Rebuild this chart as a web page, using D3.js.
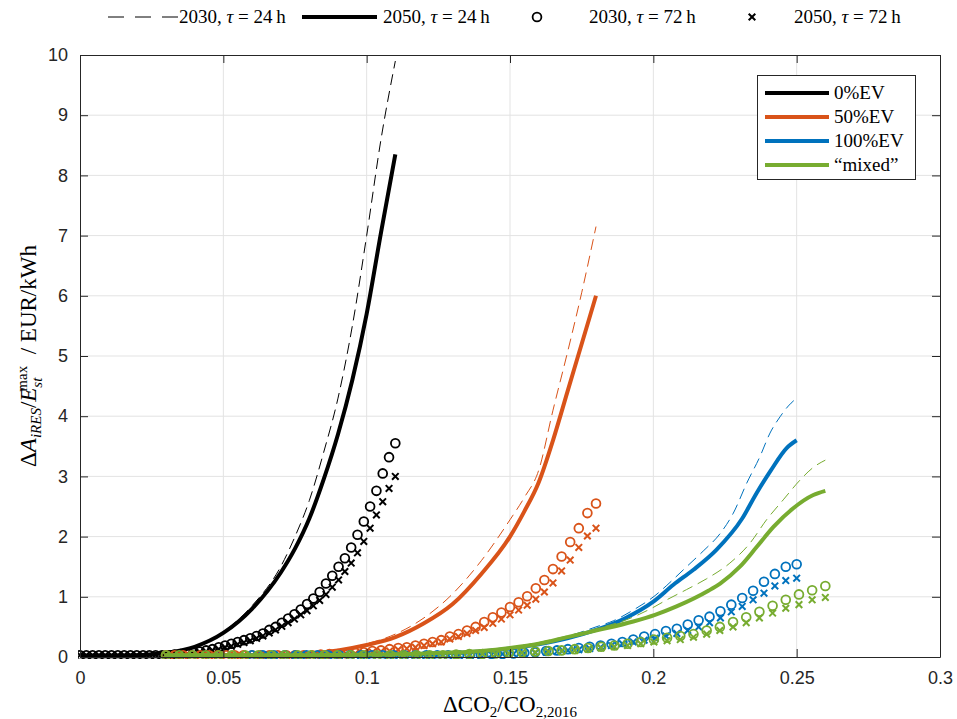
<!DOCTYPE html>
<html><head><meta charset="utf-8">
<script src="https://cdn.jsdelivr.net/npm/d3@7"></script>
<style>
body{margin:0;background:#fff;}
svg{display:block;}
.tick text{font-family:"Liberation Sans",Arial,sans-serif;font-size:18px;fill:#262626;}
.math{font-family:"Liberation Serif","DejaVu Serif",serif;fill:#000;}
</style></head>
<body>
<script>
// ---------- DATA ----------
const scenarios = ["0%EV","50%EV","100%EV","\u201Cmixed\u201D"];
const colors = ["#000000","#D95319","#0072BD","#77AC30"];
const xTicks = [0,0.05,0.1,0.15,0.2,0.25,0.3];
const yTicks = [0,1,2,3,4,5,6,7,8,9,10];

// 2050, tau=24h (thick solid)
const x0_2050_24 = [0,0.01,0.02,0.03,0.04,0.05,0.06,0.07,0.075,0.08,0.085,0.09,0.095,0.1,0.105,0.11];
const y0_2050_24 = [0.02,0.02,0.03,0.07,0.17,0.4,0.8,1.4,1.8,2.3,2.95,3.7,4.6,5.7,7.05,8.35];
const x50_2050_24 = [0.03,0.05,0.07,0.08,0.09,0.1,0.11,0.12,0.13,0.14,0.15,0.155,0.16,0.165,0.17,0.175,0.18];
const y50_2050_24 = [0.03,0.03,0.04,0.06,0.11,0.2,0.33,0.56,0.88,1.38,2.0,2.42,2.9,3.6,4.4,5.2,6.0];
const x100_2050_24 = [0.06,0.1,0.12,0.14,0.15,0.16,0.17,0.18,0.19,0.2,0.207,0.214,0.222,0.231,0.236,0.241,0.2465,0.25];
const y100_2050_24 = [0.02,0.03,0.05,0.09,0.14,0.21,0.31,0.45,0.64,0.92,1.2,1.45,1.78,2.3,2.72,3.1,3.47,3.6];
const xmx_2050_24 = [0.03,0.08,0.1,0.12,0.14,0.15,0.16,0.17,0.181,0.193,0.2006,0.2081,0.2192,0.2233,0.2302,0.2361,0.2419,0.2488,0.2558,0.26];
const ymx_2050_24 = [0.03,0.03,0.04,0.06,0.1,0.15,0.22,0.33,0.45,0.59,0.7,0.84,1.1,1.22,1.5,1.83,2.16,2.47,2.69,2.76];

// 2030, tau=24h (thin dashed)
const x0_2030_24 = [0,0.01,0.02,0.03,0.04,0.05,0.06,0.07,0.075,0.08,0.085,0.09,0.095,0.1,0.105,0.11];
const y0_2030_24 = [0.02,0.02,0.03,0.07,0.18,0.42,0.85,1.5,2.0,2.6,3.4,4.3,5.5,7.0,8.6,9.9];
const x50_2030_24 = [0.03,0.05,0.07,0.08,0.09,0.1,0.11,0.12,0.13,0.14,0.15,0.155,0.16,0.165,0.17,0.175,0.18];
const y50_2030_24 = [0.03,0.03,0.04,0.07,0.12,0.22,0.38,0.65,1.05,1.6,2.28,2.65,3.1,4.1,5.05,6.05,7.15];
const x100_2030_24 = [0.06,0.1,0.12,0.14,0.15,0.16,0.17,0.18,0.186,0.193,0.2006,0.2047,0.2105,0.2174,0.2233,0.2279,0.2326,0.2372,0.2407,0.2442,0.2471,0.25];
const y100_2030_24 = [0.02,0.03,0.05,0.1,0.15,0.23,0.34,0.5,0.6,0.78,1.02,1.19,1.45,1.76,2.05,2.39,2.89,3.33,3.72,3.99,4.17,4.3];
const xmx_2030_24 = [0.03,0.08,0.1,0.12,0.14,0.15,0.16,0.17,0.18,0.1907,0.2006,0.2047,0.2116,0.2186,0.2267,0.2337,0.2395,0.2453,0.2512,0.2558,0.26];
const ymx_2030_24 = [0.03,0.03,0.04,0.06,0.11,0.16,0.24,0.35,0.47,0.62,0.84,0.95,1.12,1.3,1.56,1.89,2.28,2.61,2.94,3.15,3.27];

// tau=72h markers: sample range per scenario (51 evenly spaced samples)
const markerXStart = [0,0.03,0.06,0.03];
const markerXEnd = [0.11,0.18,0.25,0.26];
// 2030, tau=72h (circles)
const y0_2030_72 = [0.03,0.03,0.03,0.03,0.03,0.03,0.03,0.03,0.03,0.03,0.03,0.03,0.03,0.03,0.03,0.04,0.05,0.06,0.07,0.09,0.11,0.13,0.16,0.19,0.22,0.25,0.28,0.31,0.35,0.39,0.45,0.5,0.57,0.64,0.71,0.79,0.88,0.97,1.08,1.22,1.35,1.5,1.64,1.82,2.03,2.25,2.5,2.76,3.05,3.32,3.55];
const y50_2030_72 = [0.03,0.03,0.03,0.03,0.03,0.03,0.03,0.03,0.03,0.03,0.03,0.03,0.03,0.03,0.03,0.03,0.03,0.03,0.04,0.05,0.05,0.06,0.07,0.08,0.1,0.11,0.13,0.15,0.16,0.19,0.22,0.25,0.28,0.34,0.38,0.44,0.5,0.58,0.66,0.74,0.83,0.91,1.01,1.14,1.28,1.46,1.67,1.91,2.14,2.39,2.55];
const y100_2030_72 = [0.03,0.03,0.03,0.03,0.03,0.03,0.03,0.03,0.03,0.03,0.03,0.03,0.03,0.03,0.03,0.03,0.03,0.03,0.03,0.03,0.03,0.04,0.05,0.05,0.06,0.07,0.08,0.1,0.11,0.13,0.15,0.17,0.19,0.22,0.25,0.29,0.34,0.38,0.43,0.47,0.54,0.61,0.67,0.76,0.87,0.98,1.1,1.25,1.38,1.5,1.54];
const ymx_2030_72 = [0.03,0.03,0.03,0.03,0.03,0.03,0.03,0.03,0.03,0.03,0.03,0.03,0.03,0.03,0.03,0.03,0.03,0.03,0.03,0.03,0.03,0.03,0.04,0.05,0.05,0.06,0.07,0.08,0.09,0.1,0.11,0.13,0.15,0.17,0.19,0.22,0.25,0.29,0.32,0.35,0.38,0.44,0.5,0.58,0.66,0.75,0.85,0.95,1.04,1.11,1.18];
// 2050, tau=72h (crosses)
const y0_2050_72 = [0.03,0.03,0.03,0.03,0.03,0.03,0.03,0.03,0.03,0.03,0.03,0.03,0.03,0.03,0.03,0.03,0.04,0.05,0.06,0.08,0.09,0.11,0.13,0.16,0.18,0.21,0.24,0.27,0.31,0.35,0.4,0.45,0.51,0.57,0.63,0.7,0.77,0.85,0.94,1.04,1.16,1.28,1.42,1.56,1.73,1.92,2.14,2.36,2.58,2.8,3.0];
const y50_2050_72 = [0.03,0.03,0.03,0.03,0.03,0.03,0.03,0.03,0.03,0.03,0.03,0.03,0.03,0.03,0.03,0.03,0.03,0.03,0.03,0.04,0.05,0.05,0.06,0.07,0.08,0.09,0.1,0.12,0.14,0.16,0.19,0.22,0.25,0.3,0.34,0.39,0.44,0.49,0.56,0.63,0.7,0.78,0.86,0.96,1.08,1.23,1.43,1.61,1.82,2.01,2.14];
const y100_2050_72 = [0.03,0.03,0.03,0.03,0.03,0.03,0.03,0.03,0.03,0.03,0.03,0.03,0.03,0.03,0.03,0.03,0.03,0.03,0.03,0.03,0.03,0.03,0.04,0.05,0.05,0.06,0.07,0.08,0.09,0.11,0.12,0.14,0.16,0.19,0.22,0.25,0.28,0.31,0.35,0.39,0.44,0.5,0.57,0.65,0.75,0.84,0.95,1.06,1.18,1.27,1.31];
const ymx_2050_72 = [0.03,0.03,0.03,0.03,0.03,0.03,0.03,0.03,0.03,0.03,0.03,0.03,0.03,0.03,0.03,0.03,0.03,0.03,0.03,0.03,0.03,0.03,0.03,0.04,0.05,0.05,0.06,0.07,0.08,0.09,0.1,0.11,0.13,0.15,0.17,0.19,0.22,0.25,0.27,0.29,0.33,0.38,0.44,0.5,0.57,0.65,0.73,0.81,0.87,0.95,0.99];

// ---------- CHART ----------
const W = 957, H = 719;
const m = {left:80, right:17, top:55, bottom:62};
const pw = W - m.left - m.right, ph = H - m.top - m.bottom;

const svg = d3.select("body").append("svg").attr("width",W).attr("height",H);
const g = svg.append("g").attr("transform",`translate(${m.left},${m.top})`);
const x = d3.scaleLinear().domain([0,0.3]).range([0,pw]);
const y = d3.scaleLinear().domain([0,10]).range([ph,0]);

// grid
g.append("g").selectAll("line").data(xTicks.slice(1,-1)).join("line")
  .attr("x1",d=>x(d)).attr("x2",d=>x(d)).attr("y1",0).attr("y2",ph)
  .attr("stroke","#e3e3e3").attr("stroke-width",1);
g.append("g").selectAll("line").data(yTicks.slice(1,-1)).join("line")
  .attr("y1",d=>y(d)).attr("y2",d=>y(d)).attr("x1",0).attr("x2",pw)
  .attr("stroke","#e3e3e3").attr("stroke-width",1);

// data
const clipId = "clip";
svg.append("defs").append("clipPath").attr("id",clipId).append("rect")
  .attr("x",-2).attr("y",-6).attr("width",pw+4).attr("height",ph+8);
const plot = g.append("g").attr("clip-path",`url(#${clipId})`);

const line = d3.line().x(d=>x(d[0])).y(d=>y(d[1])).curve(d3.curveMonotoneX);
const zipXY = (xs,ys)=>xs.map((v,i)=>[v,ys[i]]);

const dashed = [[x0_2030_24,y0_2030_24],[x50_2030_24,y50_2030_24],[x100_2030_24,y100_2030_24],[xmx_2030_24,ymx_2030_24]];
const solid = [[x0_2050_24,y0_2050_24],[x50_2050_24,y50_2050_24],[x100_2050_24,y100_2050_24],[xmx_2050_24,ymx_2050_24]];
const circ = [y0_2030_72,y50_2030_72,y100_2030_72,ymx_2030_72];
const cross = [y0_2050_72,y50_2050_72,y100_2050_72,ymx_2050_72];

for(let k=0;k<4;k++){
  const c = colors[k];
  plot.append("path").datum(zipXY(dashed[k][0],dashed[k][1])).attr("d",line)
    .attr("fill","none").attr("stroke",c).attr("stroke-width",1).attr("stroke-dasharray","11,6");
  plot.append("path").datum(zipXY(solid[k][0],solid[k][1])).attr("d",line)
    .attr("fill","none").attr("stroke",c).attr("stroke-width",4).attr("stroke-linejoin","round");
  const n = circ[k].length;
  const xs = d3.range(n).map(i=>markerXStart[k]+(markerXEnd[k]-markerXStart[k])*i/(n-1));
  plot.append("g").selectAll("circle").data(circ[k]).join("circle")
    .attr("cx",(d,i)=>x(xs[i])).attr("cy",d=>y(d)).attr("r",4.4)
    .attr("fill","none").attr("stroke",c).attr("stroke-width",1.8);
  const s = 3.3;
  plot.append("g").selectAll("path").data(cross[k]).join("path")
    .attr("d",(d,i)=>{const cx=x(xs[i]),cy=y(d);return `M${cx-s},${cy-s}L${cx+s},${cy+s}M${cx-s},${cy+s}L${cx+s},${cy-s}`;})
    .attr("fill","none").attr("stroke",c).attr("stroke-width",2);
}

// axes
const axCol = "#262626";
const tl = 8;
const xa = g.append("g").attr("transform",`translate(0,${ph})`)
  .call(d3.axisBottom(x).tickValues(xTicks).tickFormat(d=>d3.format("")(+d.toFixed(2))).tickSizeInner(-tl).tickSizeOuter(0).tickPadding(14));
const ya = g.append("g")
  .call(d3.axisLeft(y).tickValues(yTicks).tickSizeInner(-tl).tickSizeOuter(0).tickPadding(12));
const xt = g.append("g").call(d3.axisTop(x).tickValues(xTicks).tickFormat("").tickSizeInner(-tl).tickSizeOuter(0));
const yr = g.append("g").attr("transform",`translate(${pw},0)`).call(d3.axisRight(y).tickValues(yTicks).tickFormat("").tickSizeInner(-tl).tickSizeOuter(0));
[xa,ya,xt,yr].forEach(a=>{a.selectAll("path,line").attr("stroke",axCol);a.select(".domain").attr("stroke-width",1);});
xa.selectAll(".tick text").attr("dy","0.71em");

// x label
const xl = svg.append("text").attr("class","math").attr("x",m.left+pw/2).attr("y",712)
  .attr("text-anchor","middle").attr("font-size",23);
xl.append("tspan").text("\u0394CO");
xl.append("tspan").attr("font-size",15).attr("dy",5).text("2");
xl.append("tspan").attr("dy",-5).text("/CO");
xl.append("tspan").attr("font-size",15).attr("dy",5).text("2,2016");

// y label
const yl = svg.append("text").attr("class","math").attr("transform",`translate(36,${m.top+ph/2}) rotate(-90)`)
  .attr("text-anchor","middle").attr("font-size",23);
yl.append("tspan").text("\u0394");
yl.append("tspan").attr("font-style","italic").text("A");
yl.append("tspan").attr("font-style","italic").attr("font-size",15).attr("dy",5).text("iRES");
yl.append("tspan").attr("dy",-5).text("/");
yl.append("tspan").attr("font-style","italic").text("E");
yl.append("tspan").attr("font-style","italic").attr("font-size",15).attr("dy",6).text("st");
yl.append("tspan").attr("font-size",15).attr("dx",-14).attr("dy",-15).text("max");
yl.append("tspan").attr("dy",9).text("\u2002/ EUR/kWh");

// top legend
const tlg = svg.append("g").attr("class","math");
const ly = 17;
tlg.append("line").attr("x1",108).attr("x2",178).attr("y1",ly).attr("y2",ly)
  .attr("stroke","#000").attr("stroke-width",1).attr("stroke-dasharray","16,11");
tlg.append("line").attr("x1",302).attr("x2",377).attr("y1",ly).attr("y2",ly)
  .attr("stroke","#000").attr("stroke-width",4);
tlg.append("circle").attr("cx",537).attr("cy",ly).attr("r",4.4).attr("fill","none").attr("stroke","#000").attr("stroke-width",1.8);
tlg.append("path").attr("d",`M${752-3.3},${ly-3.3}L${752+3.3},${ly+3.3}M${752-3.3},${ly+3.3}L${752+3.3},${ly-3.3}`)
  .attr("stroke","#000").attr("stroke-width",2);
const topItems = [["2030",24,179],["2050",24,383],["2030",72,589],["2050",72,794]];
topItems.forEach(([yr_,tau,tx])=>{
  const t = tlg.append("text").attr("x",tx).attr("y",ly+6).attr("font-size",19);
  t.append("tspan").text(yr_+", ");
  t.append("tspan").attr("font-style","italic").text("\u03C4");
  t.append("tspan").text(" = "+tau+"\u2009h");
});

// scenario legend
const lg = svg.append("g");
lg.append("rect").attr("x",757.5).attr("y",75.5).attr("width",158).attr("height",104)
  .attr("fill","#fff").attr("stroke","#262626").attr("stroke-width",1);
scenarios.forEach((s,i)=>{
  const yy = 93 + i*24;
  lg.append("line").attr("x1",765).attr("x2",829).attr("y1",yy).attr("y2",yy)
    .attr("stroke",colors[i]).attr("stroke-width",4);
  lg.append("text").attr("class","math").attr("x",834).attr("y",yy+6).attr("font-size",19).text(s);
});
</script>
</body></html>
